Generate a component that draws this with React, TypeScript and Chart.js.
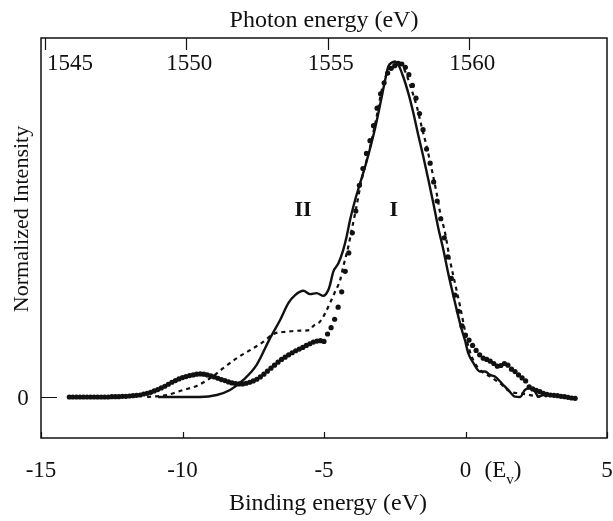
import React, { useEffect, useRef } from "react";
import { Chart, registerables } from "chart.js";

Chart.register(...registerables);

// ---------- data ----------
const bottomTicks = [-15, -10, -5, 0, 5];
const topTicks = [1545, 1550, 1555, 1560];
const yTicks = [0];
const photonOffset = 1559.87; // photon energy = binding energy + offset

const solidX = [-10.86, -9.38, -8.79, -8.32, -7.85, -7.38, -6.91, -6.55, -6.26, -6.02, -5.73, -5.49, -5.26, -5.02, -4.85, -4.79, -4.67, -4.49, -4.32, -4.2, -4.08, -3.9, -3.79, -3.49, -3.2, -2.96, -2.84, -2.73, -2.61, -2.49, -2.37, -2.2, -2.02, -1.84, -1.67, -1.49, -1.31, -1.14, -0.96, -0.78, -0.61, -0.45, -0.31, -0.13, -0.02, 0.1, 0.28, 0.51, 0.69, 0.87, 1.04, 1.28, 1.51, 1.75, 1.93, 2.1, 2.28, 2.46, 2.57, 2.75, 2.87];
const solidY = [0, 0, 0.006, 0.021, 0.051, 0.096, 0.175, 0.23, 0.28, 0.304, 0.317, 0.307, 0.31, 0.302, 0.319, 0.334, 0.374, 0.399, 0.439, 0.479, 0.528, 0.588, 0.62, 0.705, 0.8, 0.896, 0.946, 0.986, 0.998, 1.001, 0.991, 0.956, 0.907, 0.847, 0.782, 0.717, 0.648, 0.58, 0.504, 0.439, 0.369, 0.31, 0.26, 0.2, 0.17, 0.13, 0.101, 0.076, 0.076, 0.066, 0.061, 0.041, 0.021, 0.001, 0, 0.021, 0.026, 0.016, 0.001, 0.006, 0.001];

const dashedX = [-11.25, -10.56, -9.97, -9.5, -9.03, -8.56, -8.08, -7.61, -7.14, -6.79, -6.32, -5.85, -5.49, -5.38, -5.14, -4.96, -4.79, -4.61, -4.43, -4.32, -4.14, -4.02, -3.9, -3.67, -3.37, -3.14, -2.96, -2.78, -2.61, -2.43, -2.25, -2.08, -1.9, -1.72, -1.55, -1.37, -1.19, -1.02, -0.9, -0.72, -0.55, -0.37, -0.19, -0.06, 0.06, 0.22, 0.45, 0.87, 1.22, 1.57, 1.93, 2.63];
const dashedY = [0, 0.006, 0.021, 0.033, 0.056, 0.086, 0.116, 0.14, 0.165, 0.188, 0.195, 0.198, 0.2, 0.212, 0.225, 0.25, 0.28, 0.314, 0.349, 0.389, 0.449, 0.499, 0.548, 0.648, 0.747, 0.837, 0.916, 0.966, 0.996, 1.001, 0.991, 0.961, 0.916, 0.867, 0.807, 0.747, 0.678, 0.608, 0.552, 0.489, 0.409, 0.339, 0.27, 0.215, 0.165, 0.12, 0.086, 0.061, 0.041, 0.016, 0.011, 0];

const dottedX = [
  -14, -13.875, -13.75, -13.625, -13.5, -13.375, -13.25, -13.125,
  -13, -12.875, -12.75, -12.625, -12.5, -12.375, -12.25, -12.125,
  -12, -11.875, -11.75, -11.625, -11.5, -11.375, -11.25, -11.125,
  -11, -10.875, -10.75, -10.625, -10.5, -10.375, -10.25, -10.125,
  -10, -9.875, -9.75, -9.625, -9.5, -9.375, -9.25, -9.125,
  -9, -8.875, -8.75, -8.625, -8.5, -8.375, -8.25, -8.125,
  -8, -7.875, -7.75, -7.625, -7.5, -7.375, -7.25, -7.125,
  -7, -6.875, -6.75, -6.625, -6.5, -6.375, -6.25, -6.125,
  -6, -5.875, -5.75, -5.625, -5.5, -5.375, -5.25, -5.125,
  -5, -4.875, -4.75, -4.625, -4.5, -4.375, -4.25, -4.125,
  -4, -3.875, -3.75, -3.625, -3.5, -3.375, -3.25, -3.125,
  -3, -2.875, -2.75, -2.625, -2.5, -2.375, -2.25, -2.125,
  -2, -1.875, -1.75, -1.625, -1.5, -1.375, -1.25, -1.125,
  -1, -0.875, -0.75, -0.625, -0.5, -0.375, -0.25, -0.125,
  0, 0.125, 0.25, 0.375, 0.5, 0.625, 0.75, 0.875,
  1, 1.125, 1.25, 1.375, 1.5, 1.625, 1.75, 1.875,
  2, 2.125, 2.25, 2.375, 2.5, 2.625, 2.75, 2.875,
  3, 3.125, 3.25, 3.375, 3.5, 3.625, 3.75, 3.875,
];
const dottedY = [
  0, 0, 0, 0, 0, 0, 0, 0,
  0, 0, 0, 0, 0.001, 0.001, 0.001, 0.002,
  0.002, 0.003, 0.004, 0.005, 0.006, 0.009, 0.011, 0.014,
  0.018, 0.022, 0.027, 0.032, 0.038, 0.044, 0.049, 0.054,
  0.058, 0.061, 0.064, 0.066, 0.068, 0.069, 0.068, 0.066,
  0.063, 0.06, 0.056, 0.052, 0.049, 0.045, 0.042, 0.04,
  0.039, 0.039, 0.041, 0.044, 0.048, 0.053, 0.06, 0.068,
  0.077, 0.086, 0.095, 0.104, 0.112, 0.119, 0.126, 0.132,
  0.138, 0.143, 0.148, 0.154, 0.159, 0.164, 0.167, 0.168,
  0.166, 0.188, 0.207, 0.232, 0.268, 0.314, 0.375, 0.43,
  0.49, 0.555, 0.632, 0.682, 0.727, 0.765, 0.81, 0.862,
  0.905, 0.938, 0.967, 0.981, 0.989, 0.996, 0.994, 0.984,
  0.962, 0.93, 0.892, 0.846, 0.798, 0.74, 0.698, 0.642,
  0.585, 0.532, 0.475, 0.418, 0.354, 0.304, 0.256, 0.212,
  0.185, 0.17, 0.154, 0.139, 0.126, 0.116, 0.112, 0.107,
  0.1, 0.092, 0.094, 0.1, 0.095, 0.083, 0.076, 0.066,
  0.057, 0.048, 0.03, 0.024, 0.02, 0.016, 0.011, 0.008,
  0.006, 0.005, 0.004, 0.002, 0.001, -0.001, -0.003, -0.004,
];

const peakLabels = ["II", "I"];
const peakLabelX = [-5.74, -2.53];
const peakLabelY = [0.558, 0.558];

const xTitle = "Binding energy (eV)";
const x2Title = "Photon energy (eV)";
const yTitle = "Normalized Intensity";

// ---------- styling ----------
const FONT = '"Liberation Serif", "Times New Roman", serif';
const INK = "#111";

const paperAxes = {
  id: "paperAxes",
  afterDraw(chart: any) {
    const { ctx, chartArea: a, scales } = chart;
    const x = scales.x;
    const x2 = scales.x2;
    const y = scales.y;
    ctx.save();
    ctx.strokeStyle = INK;
    ctx.fillStyle = INK;
    // frame
    ctx.lineWidth = 1.5;
    ctx.strokeRect(a.left, a.top, a.right - a.left, a.bottom - a.top);
    // ticks (inward)
    ctx.lineWidth = 1.2;
    ctx.beginPath();
    bottomTicks.forEach((v) => {
      const px = Math.round(x.getPixelForValue(v)) + 0.5;
      ctx.moveTo(px, a.bottom);
      ctx.lineTo(px, a.bottom - 6);
    });
    topTicks.forEach((v) => {
      const px = Math.round(x2.getPixelForValue(v)) + 0.5;
      ctx.moveTo(px, a.top);
      ctx.lineTo(px, a.top + 12);
    });
    yTicks.forEach((v) => {
      const py = Math.round(y.getPixelForValue(v)) + 0.5;
      ctx.moveTo(a.left, py);
      ctx.lineTo(a.left + 16, py);
    });
    ctx.stroke();

    // tick labels
    ctx.font = `23px ${FONT}`;
    ctx.textAlign = "center";
    ctx.textBaseline = "middle";
    bottomTicks.forEach((v) => {
      ctx.fillText(String(v), x.getPixelForValue(v), a.bottom + 33);
    });
    topTicks.forEach((v) => {
      const label = String(v);
      const w = ctx.measureText(label).width;
      const cx = Math.max(x2.getPixelForValue(v) + 3, a.left + w / 2 + 6);
      ctx.fillText(label, cx, a.top + 26);
    });
    yTicks.forEach((v) => {
      ctx.fillText(String(v), a.left - 18, y.getPixelForValue(v) + 2);
    });

    // "(E_v)" after the zero label
    const zx = x.getPixelForValue(0);
    const by = a.bottom + 33;
    ctx.textAlign = "left";
    ctx.fillText("(E", zx + 19, by);
    let cx = zx + 19 + ctx.measureText("(E").width;
    ctx.font = `15px ${FONT}`;
    ctx.fillText("v", cx, by + 9);
    cx += ctx.measureText("v").width;
    ctx.font = `23px ${FONT}`;
    ctx.fillText(")", cx, by);

    // axis titles
    ctx.font = `24px ${FONT}`;
    ctx.textAlign = "center";
    ctx.fillText(x2Title, (a.left + a.right) / 2, a.top - 17);
    ctx.fillText(xTitle, (a.left + a.right) / 2 + 4, a.bottom + 66);
    ctx.save();
    ctx.translate(22, 219);
    ctx.rotate(-Math.PI / 2);
    ctx.font = `22px ${FONT}`;
    ctx.fillText(yTitle, 0, 0);
    ctx.restore();

    // peak labels
    ctx.font = `bold 22px ${FONT}`;
    peakLabels.forEach((t, i) => {
      ctx.fillText(t, x.getPixelForValue(peakLabelX[i]), y.getPixelForValue(peakLabelY[i]));
    });
    ctx.restore();
  },
};

export default function App() {
  const ref = useRef<HTMLCanvasElement | null>(null);
  useEffect(() => {
    if (!ref.current) return;
    const chart = new Chart(ref.current, {
      type: "line",
      data: {
        datasets: [
          {
            label: "solid",
            data: solidX.map((v, i) => ({ x: v, y: solidY[i] })),
            borderColor: INK,
            borderWidth: 2.4,
            pointRadius: 0,
            fill: false,
            cubicInterpolationMode: "monotone",
          },
          {
            label: "dashed",
            data: dashedX.map((v, i) => ({ x: v, y: dashedY[i] })),
            borderColor: INK,
            borderWidth: 2.2,
            borderDash: [4, 4],
            pointRadius: 0,
            fill: false,
            cubicInterpolationMode: "monotone",
          },
          {
            label: "dotted",
            data: dottedX.map((v, i) => ({ x: v, y: dottedY[i] })),
            showLine: false,
            pointRadius: 2.6,
            pointStyle: "circle",
            pointBackgroundColor: INK,
            pointBorderWidth: 0,
            borderColor: INK,
          },
        ],
      },
      options: {
        animation: false,
        responsive: false,
        devicePixelRatio: 1,
        layout: { padding: { left: 41, top: 38, right: 6, bottom: 83 } },
        plugins: { legend: { display: false }, tooltip: { enabled: false } },
        events: [],
        scales: {
          x: { type: "linear", min: -15, max: 5, display: false },
          x2: { type: "linear", position: "top", min: -15 + photonOffset, max: 5 + photonOffset, display: false },
          y: { type: "linear", min: -0.1224, max: 1.0716, display: false },
        },
      },
      plugins: [paperAxes],
    });
    return () => chart.destroy();
  }, []);
  return (
    <div style={{ position: "fixed", left: 0, top: 0, width: 613, height: 521, background: "#fff" }}>
      <canvas ref={ref} width={613} height={521} style={{ width: 613, height: 521, display: "block" }} />
    </div>
  );
}
